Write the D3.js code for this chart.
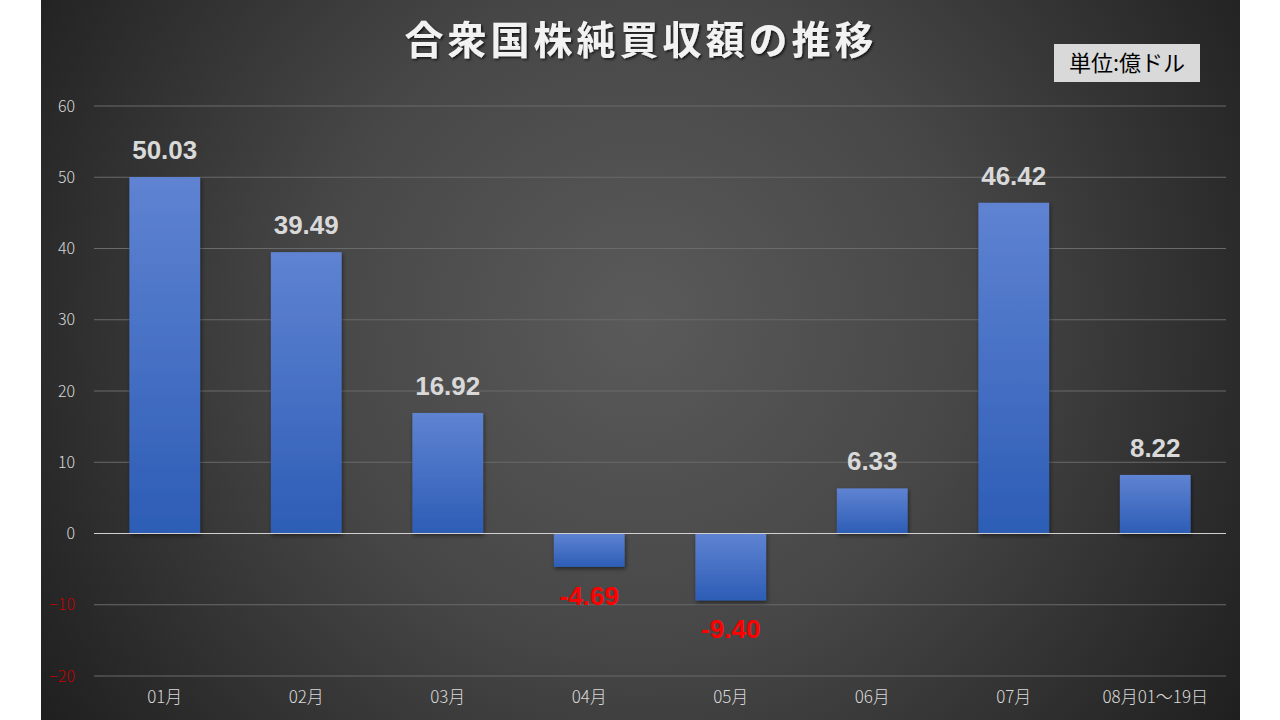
<!DOCTYPE html>
<html>
<head>
<meta charset="utf-8">
<script src="https://cdn.jsdelivr.net/npm/d3@7"></script>
<style>
  html, body { margin: 0; padding: 0; background: #fff; }
  svg { display: block; }
</style>
</head>
<body>
<div id="chart"></div>
<script>
// ---- data
const categories = ['01月', '02月', '03月', '04月', '05月', '06月', '07月', '08月01～19日'];
const values     = [50.03, 39.49, 16.92, -4.69, -9.40, 6.33, 46.42, 8.22];
const yTicks     = [-20, -10, 0, 10, 20, 30, 40, 50, 60];

const width = 1280, height = 720;
const font = '"Noto Sans CJK JP", "Noto Sans", sans-serif';

const svg = d3.select('#chart').append('svg')
  .attr('width', width)
  .attr('height', height);

const defs = svg.append('defs');

// background: dark radial
const bg = defs.append('radialGradient')
  .attr('id', 'bg')
  .attr('gradientUnits', 'userSpaceOnUse')
  .attr('cx', 640).attr('cy', 320).attr('r', 720);
bg.append('stop').attr('offset', '0%').attr('stop-color', '#5a5a5a');
bg.append('stop').attr('offset', '45%').attr('stop-color', '#474747');
bg.append('stop').attr('offset', '100%').attr('stop-color', '#1f1f1f');

const barGrad = defs.append('linearGradient')
  .attr('id', 'bar').attr('x1', 0).attr('y1', 0).attr('x2', 0).attr('y2', 1);
barGrad.append('stop').attr('offset', '0%').attr('stop-color', '#5f83d2');
barGrad.append('stop').attr('offset', '100%').attr('stop-color', '#2d5db6');

const shadow = defs.append('filter').attr('id', 'shadow')
  .attr('x', '-20%').attr('y', '-20%').attr('width', '140%').attr('height', '140%');
shadow.append('feDropShadow')
  .attr('dx', 1).attr('dy', 2).attr('stdDeviation', 2)
  .attr('flood-color', '#000').attr('flood-opacity', 0.5);

const tshadow = defs.append('filter').attr('id', 'tshadow');
tshadow.append('feDropShadow')
  .attr('dx', 1.5).attr('dy', 1.5).attr('stdDeviation', 1)
  .attr('flood-color', '#000').attr('flood-opacity', 0.7);

svg.append('rect')
  .attr('x', 41).attr('y', 0)
  .attr('width', 1199).attr('height', height)
  .attr('fill', 'url(#bg)');

// ---- scales
const x = d3.scaleBand()
  .domain(categories)
  .range([94, 1226])
  .paddingInner(0.5)
  .paddingOuter(0.25);

const y = d3.scaleLinear()
  .domain([-20, 60])
  .range([676, 106]);

// ---- grid
svg.append('g')
  .selectAll('line')
  .data(yTicks.filter(d => d !== 0))
  .join('line')
  .attr('x1', 94).attr('x2', 1226)
  .attr('y1', d => y(d)).attr('y2', d => y(d))
  .attr('stroke', '#6a6a6a')
  .attr('stroke-width', 1);

// ---- y axis labels
const yAxis = svg.append('g')
  .attr('transform', 'translate(75,0)')
  .call(d3.axisLeft(y).tickValues(yTicks).tickSize(0).tickPadding(0));
yAxis.select('.domain').remove();
yAxis.selectAll('text')
  .attr('font-family', font)
  .attr('font-weight', 300)
  .attr('font-size', 16)
  .attr('fill', d => d < 0 ? '#c00000' : '#d9d9d9');

// ---- bars
svg.append('g')
  .selectAll('rect')
  .data(values)
  .join('rect')
  .attr('x', (d, i) => x(categories[i]))
  .attr('width', x.bandwidth())
  .attr('y', d => y(Math.max(0, d)))
  .attr('height', d => Math.abs(y(d) - y(0)))
  .attr('fill', 'url(#bar)')
  .attr('filter', 'url(#shadow)');

// zero line
svg.append('line')
  .attr('x1', 94).attr('x2', 1226)
  .attr('y1', y(0)).attr('y2', y(0))
  .attr('stroke', '#d0d0d0')
  .attr('stroke-width', 1.2);

// ---- x axis labels
const xAxis = svg.append('g')
  .attr('transform', 'translate(0,691)')
  .call(d3.axisBottom(x).tickSize(0).tickPadding(0));
xAxis.select('.domain').remove();
xAxis.selectAll('text')
  .attr('font-family', font)
  .attr('font-weight', 300)
  .attr('font-size', 17)
  .attr('fill', '#d9d9d9');

// ---- value labels
svg.append('g')
  .selectAll('text')
  .data(values)
  .join('text')
  .attr('x', (d, i) => x(categories[i]) + x.bandwidth() / 2)
  .attr('y', d => d >= 0 ? y(d) - 18 : y(d) + 38)
  .attr('text-anchor', 'middle')
  .attr('font-family', '"Liberation Sans", Arial, sans-serif')
  .attr('font-weight', 'bold')
  .attr('font-size', 26)
  .attr('fill', d => d < 0 ? '#ff0000' : '#d9d9d9')
  .text(d => d.toFixed(2));

// ---- title
svg.append('text')
  .attr('x', 641).attr('y', 54)
  .attr('text-anchor', 'middle')
  .attr('font-family', font)
  .attr('font-weight', 'bold')
  .attr('font-size', 39)
  .attr('letter-spacing', 4)
  .attr('fill', '#f2f2f2')
  .attr('filter', 'url(#tshadow)')
  .text('合衆国株純買収額の推移');

// ---- unit box
svg.append('rect')
  .attr('x', 1054).attr('y', 44)
  .attr('width', 146).attr('height', 38)
  .attr('fill', '#d9d9d9');
svg.append('text')
  .attr('x', 1127).attr('y', 71)
  .attr('text-anchor', 'middle')
  .attr('font-family', font)
  .attr('font-size', 22)
  .attr('fill', '#000')
  .text('単位:億ドル');
</script>
</body>
</html>
